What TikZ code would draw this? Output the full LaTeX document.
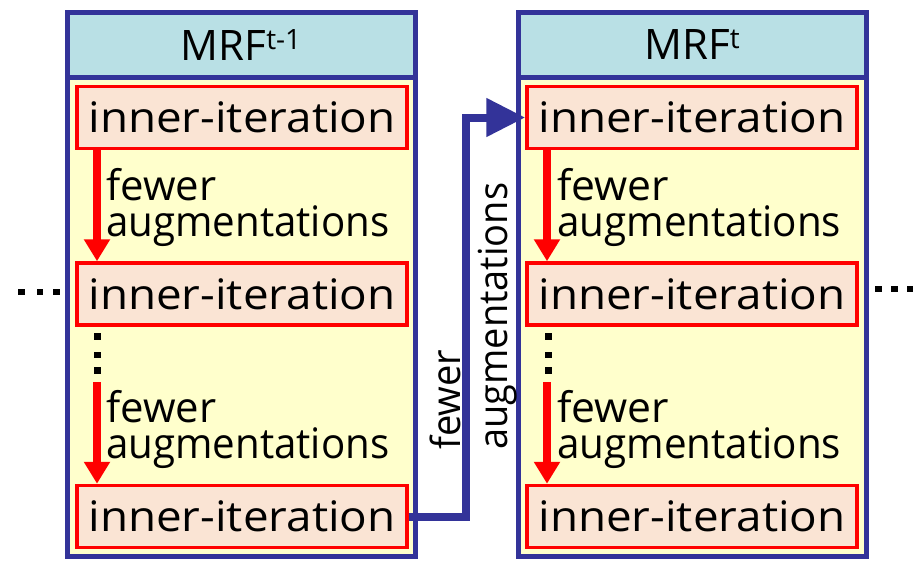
\documentclass[tikz,border=0pt]{standalone}
\usepackage{fontspec}
\setmainfont{Open Sans}
\usetikzlibrary{arrows.meta}

\definecolor{frameblue}{RGB}{51,51,153}
\definecolor{headcyan}{RGB}{185,224,229}
\definecolor{bodyyellow}{RGB}{255,255,204}
\definecolor{iterfill}{RGB}{250,228,212}
\definecolor{arrowred}{RGB}{255,0,0}

% stretch or squeeze a text horizontally to a given width
\newcommand{\fitw}[2]{\resizebox{#1}{\height}{#2}}

\tikzset{
  bigtext/.style={font=\fontsize{42}{50}\selectfont},
  colbody/.style={draw=frameblue, line width=5pt, fill=bodyyellow,
    minimum width=348pt, minimum height=478.5pt, inner sep=0pt},
  colhead/.style={draw=frameblue, line width=5pt, fill=headcyan,
    minimum width=348pt, minimum height=65pt, inner sep=0pt, bigtext},
  iterbox/.style={draw=arrowred, line width=3.5pt, fill=iterfill,
    minimum width=330pt, minimum height=62pt, inner sep=0pt, bigtext},
  lbl/.style={inner sep=0pt, align=left, anchor=base west,
    font=\fontsize{42}{36}\selectfont},
  rotlbl/.style={inner sep=0pt, font=\fontsize{40}{48}\selectfont,
    rotate=90, anchor=base west},
  dotsq/.style={fill=black, inner sep=0pt, minimum width=6.5pt, minimum height=6.5pt},
  redarrow/.style={draw=arrowred, line width=8pt,
    -{Triangle[length=22pt,width=25pt]}},
  conn/.style={draw=frameblue, line width=8pt, line join=miter,
    -{Triangle[length=39pt,width=37pt]}}
}

\newcommand{\supt}[1]{\raisebox{11pt}{\fontsize{28}{28}\selectfont #1}}

\begin{document}
\begin{tikzpicture}[x=1pt, y=-1pt]
  \useasboundingbox (0,0) rectangle (916,560);
  \fill[white] (0,0) rectangle (916,560);

  % column frames
  \node[colbody] (bodyL) at (241,316.75) {};
  \node[colhead] (headL) at (241,45) {MRF\supt{t-1}};
  \node[colbody] (bodyR) at (692,316.75) {};
  \node[colhead] (headR) at (692,45) {MRF\supt{t}};

  % inner iterations, left column
  \node[iterbox] (L1) at (242,117.5) {\fitw{307pt}{inner-iteration}};
  \node[iterbox] (L2) at (242,294)   {\fitw{307pt}{inner-iteration}};
  \node[iterbox] (L3) at (242,516.5) {\fitw{307pt}{inner-iteration}};

  % inner iterations, right column
  \node[iterbox] (R1) at (692,117.5) {\fitw{307pt}{inner-iteration}};
  \node[iterbox] (R2) at (692,294)   {\fitw{307pt}{inner-iteration}};
  \node[iterbox] (R3) at (692,516.5) {\fitw{307pt}{inner-iteration}};

  % labels beside the red arrows (anchored on the baseline of the last line)
  \node[lbl] (lbL1) at (106,236) {\fitw{110pt}{fewer}\\\fitw{283pt}{augmentations}};
  \node[lbl] (lbL2) at (106,458) {\fitw{110pt}{fewer}\\\fitw{283pt}{augmentations}};
  \node[lbl] (lbR1) at (557,236) {\fitw{112pt}{fewer}\\\fitw{284pt}{augmentations}};
  \node[lbl] (lbR2) at (557,458) {\fitw{112pt}{fewer}\\\fitw{284pt}{augmentations}};

  % vertical ellipses between iterations
  \foreach \c/\y in {1/336.5, 2/355, 3/370.5} {
    \node[dotsq] (vdL\c) at (97.5,\y) {};
    \node[dotsq] (vdR\c) at (548.5,\y) {};
  }
  % horizontal ellipses outside the columns
  \foreach \c/\x in {1/21.5, 2/40, 3/56.5}
    \node[dotsq] (hdL\c) at (\x,292) {};
  \foreach \c/\x in {1/878.5, 2/894.5, 3/910}
    \node[dotsq] (hdR\c) at (\x,289) {};

  % red arrows inside the columns
  \coordinate (gapL) at (97,382);
  \coordinate (gapR) at (547,382);
  \draw[redarrow] ([xshift=-145pt]L1.south) -- ([xshift=-145pt]L2.north);
  \draw[redarrow] (gapL) -- ([xshift=-145pt]L3.north);
  \draw[redarrow] ([xshift=-145pt]R1.south) -- ([xshift=-145pt]R2.north);
  \draw[redarrow] (gapR) -- ([xshift=-145pt]R3.north);

  % connector from the last iteration of one MRF to the first of the next
  \coordinate (bend) at (466,300);
  \draw[conn] (L3.east) -| (bend) |- (R1.west);

  % label of the connector
  \node[rotlbl] (fwC) at (460,450) {\fitw{100pt}{fewer}};
  \node[rotlbl] (auC) at (507,450) {\fitw{267pt}{augmentations}};
\end{tikzpicture}
\end{document}
